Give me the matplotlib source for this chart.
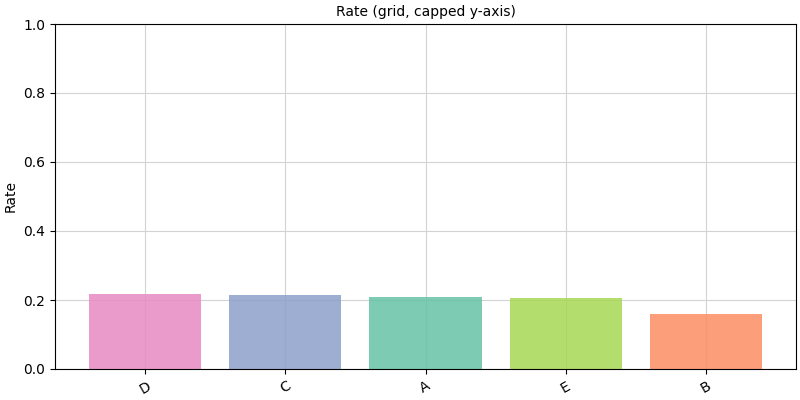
import matplotlib
matplotlib.use("Agg")
import matplotlib.pyplot as plt

categories = ["D", "C", "A", "E", "B"]
values = [0.217, 0.214, 0.209, 0.206, 0.159]
colors = ["#e78ac3", "#8da0cb", "#66c2a5", "#a6d854", "#fc8d62"]

fig, ax = plt.subplots(figsize=(8, 4), dpi=100)
ax.bar(categories, values, color=colors, alpha=0.85, zorder=2)
ax.set_ylim(0, 1.0)
ax.grid(True, color="#d3d3d3", linewidth=0.8, zorder=0)
ax.set_axisbelow(True)
ax.set_title("Rate (grid, capped y-axis)", fontsize=10)
ax.set_ylabel("Rate")
plt.setp(ax.get_xticklabels(), rotation=30)
fig.subplots_adjust(left=0.06875, right=0.995, top=0.94, bottom=0.0775)
fig.savefig("out.png")
